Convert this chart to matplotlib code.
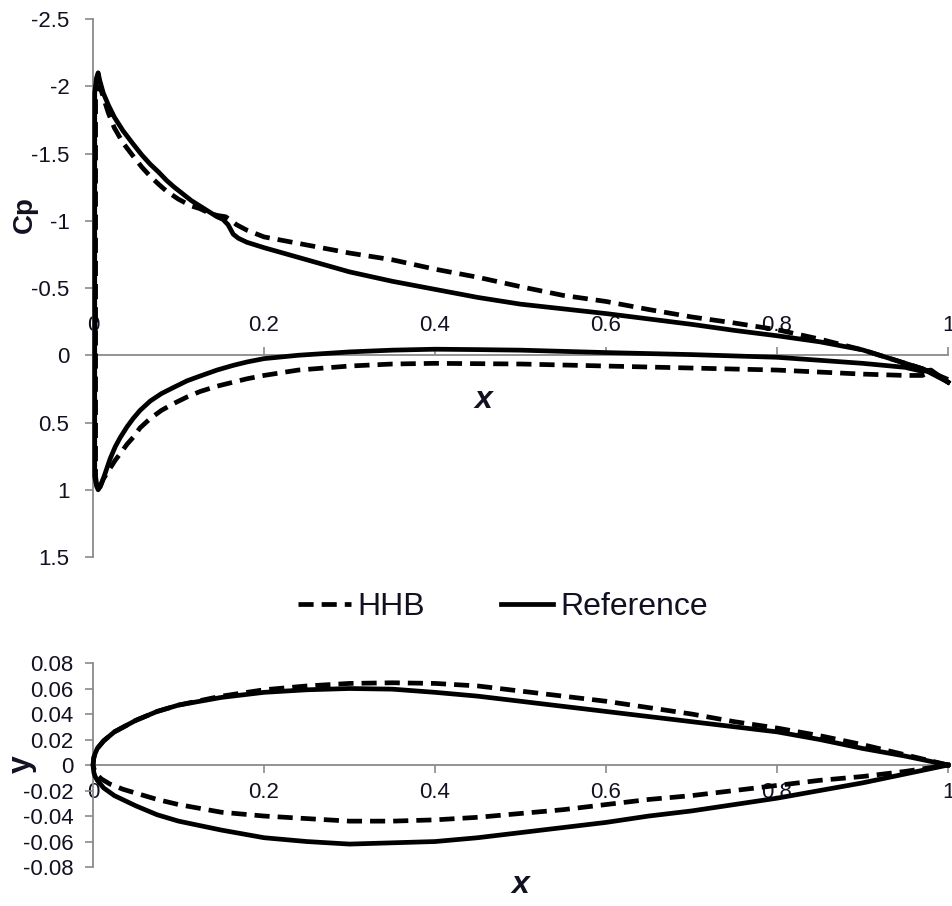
import matplotlib
matplotlib.use("Agg")
import matplotlib.pyplot as plt

# ---- Pressure coefficient along the chord (upper / lower surface) ----
ref_cp_x_upper = [0.002, 0.004, 0.006, 0.008, 0.012, 0.018, 0.025, 0.035, 0.047, 0.057,
                  0.067, 0.077, 0.086, 0.095, 0.105, 0.115, 0.125, 0.135, 0.145, 0.152,
                  0.158, 0.164, 0.170, 0.180, 0.200, 0.250, 0.300, 0.350, 0.400, 0.450,
                  0.500, 0.550, 0.600, 0.650, 0.700, 0.750, 0.800, 0.850, 0.900, 0.950,
                  0.970, 1.000]
ref_cp_upper = [-1.95, -2.06, -2.10, -2.04, -1.95, -1.86, -1.77, -1.67, -1.57, -1.49,
                -1.42, -1.36, -1.30, -1.25, -1.20, -1.15, -1.11, -1.07, -1.03, -1.01,
                -0.97, -0.90, -0.87, -0.84, -0.80, -0.71, -0.62, -0.55, -0.49, -0.43,
                -0.38, -0.345, -0.31, -0.27, -0.23, -0.185, -0.145, -0.10, -0.04, 0.06,
                0.10, 0.20]
ref_cp_x_lower = [0.002, 0.004, 0.006, 0.009, 0.013, 0.020, 0.026, 0.032, 0.040, 0.047,
                  0.055, 0.067, 0.080, 0.094, 0.110, 0.125, 0.145, 0.164, 0.180, 0.200,
                  0.240, 0.300, 0.350, 0.400, 0.450, 0.500, 0.600, 0.700, 0.800, 0.900,
                  0.950, 0.970, 0.980, 1.000]
ref_cp_lower = [0.90, 0.97, 1.00, 0.97, 0.90, 0.77, 0.68, 0.61, 0.53, 0.47,
                0.41, 0.34, 0.285, 0.24, 0.19, 0.155, 0.11, 0.075, 0.05, 0.025,
                0.00, -0.025, -0.038, -0.045, -0.042, -0.038, -0.02, -0.005, 0.015, 0.06,
                0.09, 0.12, 0.11, 0.20]

hhb_cp_x_upper = [0.003, 0.006, 0.008, 0.012, 0.018, 0.025, 0.035, 0.047, 0.057, 0.067,
                  0.077, 0.086, 0.100, 0.115, 0.125, 0.135, 0.145, 0.155, 0.162, 0.168,
                  0.180, 0.200, 0.250, 0.300, 0.350, 0.400, 0.450, 0.500, 0.550, 0.600,
                  0.650, 0.700, 0.750, 0.800, 0.850, 0.900, 0.950, 0.970, 1.000]
hhb_cp_upper = [-1.90, -1.98, -2.00, -1.92, -1.80, -1.69, -1.58, -1.48, -1.40, -1.33,
                -1.27, -1.22, -1.16, -1.11, -1.09, -1.06, -1.04, -1.03, -1.00, -0.97,
                -0.93, -0.88, -0.82, -0.76, -0.71, -0.64, -0.58, -0.51, -0.445, -0.40,
                -0.34, -0.285, -0.24, -0.19, -0.12, -0.04, 0.06, 0.10, 0.18]
hhb_cp_x_lower = [0.003, 0.005, 0.008, 0.012, 0.020, 0.026, 0.032, 0.040, 0.047, 0.055,
                  0.067, 0.080, 0.094, 0.110, 0.125, 0.145, 0.164, 0.180, 0.200, 0.240,
                  0.300, 0.350, 0.400, 0.500, 0.600, 0.700, 0.800, 0.900, 0.950, 0.970,
                  0.980, 1.000]
hhb_cp_lower = [0.90, 1.00, 0.98, 0.92, 0.84, 0.78, 0.73, 0.66, 0.61, 0.54,
                0.47, 0.41, 0.36, 0.31, 0.27, 0.23, 0.20, 0.175, 0.15, 0.11,
                0.08, 0.065, 0.06, 0.065, 0.08, 0.095, 0.11, 0.14, 0.15, 0.15,
                0.12, 0.20]

# ---- Airfoil geometry ----
ref_geo_x_upper = [0.0, 0.001, 0.0025, 0.005, 0.0125, 0.025, 0.050, 0.075, 0.100, 0.150,
                   0.200, 0.250, 0.300, 0.350, 0.400, 0.450, 0.500, 0.550, 0.600, 0.650,
                   0.700, 0.750, 0.800, 0.850, 0.900, 0.950, 1.000]
ref_geo_y_upper = [0.0, 0.006, 0.009, 0.013, 0.019, 0.026, 0.035, 0.042, 0.047, 0.053,
                   0.057, 0.059, 0.060, 0.0595, 0.057, 0.054, 0.050, 0.046, 0.042, 0.038,
                   0.034, 0.030, 0.026, 0.020, 0.013, 0.007, 0.0]
ref_geo_x_lower = [0.0, 0.001, 0.0025, 0.005, 0.0125, 0.025, 0.050, 0.075, 0.100, 0.150,
                   0.200, 0.250, 0.300, 0.350, 0.400, 0.450, 0.500, 0.550, 0.600, 0.650,
                   0.700, 0.750, 0.800, 0.850, 0.900, 0.950, 1.000]
ref_geo_y_lower = [0.0, -0.006, -0.009, -0.012, -0.018, -0.024, -0.032, -0.039, -0.044, -0.051,
                   -0.057, -0.060, -0.062, -0.061, -0.060, -0.057, -0.053, -0.049, -0.045, -0.040,
                   -0.036, -0.031, -0.026, -0.020, -0.014, -0.007, 0.0]

hhb_geo_x_upper = [0.0, 0.001, 0.0025, 0.005, 0.0125, 0.025, 0.050, 0.075, 0.100, 0.150,
                   0.200, 0.250, 0.300, 0.350, 0.400, 0.450, 0.500, 0.550, 0.600, 0.650,
                   0.700, 0.750, 0.800, 0.850, 0.900, 0.950, 1.000]
hhb_geo_y_upper = [0.0, 0.006, 0.009, 0.013, 0.019, 0.026, 0.035, 0.042, 0.047, 0.054,
                   0.059, 0.062, 0.064, 0.0645, 0.064, 0.062, 0.058, 0.054, 0.050, 0.045,
                   0.040, 0.034, 0.029, 0.023, 0.016, 0.008, 0.0]
hhb_geo_x_lower = [0.0, 0.002, 0.005, 0.010, 0.020, 0.035, 0.050, 0.075, 0.100, 0.125,
                   0.150, 0.200, 0.250, 0.300, 0.350, 0.400, 0.450, 0.500, 0.550, 0.600,
                   0.650, 0.700, 0.750, 0.800, 0.850, 0.900, 0.950, 1.000]
hhb_geo_y_lower = [0.0, -0.005, -0.008, -0.011, -0.015, -0.019, -0.022, -0.027, -0.031, -0.034,
                   -0.037, -0.040, -0.042, -0.044, -0.044, -0.043, -0.041, -0.038, -0.035, -0.031,
                   -0.027, -0.024, -0.020, -0.016, -0.012, -0.009, -0.005, 0.0]

# ---- Tick labels ----
x_ticks = [0, 0.2, 0.4, 0.6, 0.8, 1]
x_tick_labels = ["0", "0.2", "0.4", "0.6", "0.8", "1"]
cp_ticks = [-2.5, -2, -1.5, -1, -0.5, 0, 0.5, 1, 1.5]
cp_tick_labels = ["-2.5", "-2", "-1.5", "-1", "-0.5", "0", "0.5", "1", "1.5"]
y_ticks = [0.08, 0.06, 0.04, 0.02, 0, -0.02, -0.04, -0.06, -0.08]
y_tick_labels = ["0.08", "0.06", "0.04", "0.02", "0", "-0.02", "-0.04", "-0.06", "-0.08"]

plt.rcParams["font.family"] = ["Liberation Sans", "DejaVu Sans"]

AXIS_GRAY = "#8a8a8a"
TEXT_COLOR = "#111122"
LW = 3.4
DASH = (0, (3.2, 1.7))
TICK_SIZE = 16


def loop(xu, yu, xl, yl):
    """Join upper surface (trailing edge -> leading edge) with lower surface."""
    return list(xu[::-1]) + list(xl), list(yu[::-1]) + list(yl)


def style_axes(ax):
    for side in ("right", "bottom", "top", "left"):
        ax.spines[side].set_visible(False)
    ax.spines["left"].set_visible(True)
    ax.spines["left"].set_color(AXIS_GRAY)
    ax.spines["left"].set_linewidth(1.3)
    ax.tick_params(axis="both", colors=AXIS_GRAY, labelcolor=TEXT_COLOR,
                   labelsize=TICK_SIZE, width=1.2, length=6, direction="out")
    ax.tick_params(axis="y", pad=11)


fig = plt.figure(figsize=(9.53, 9.06), dpi=100)

# ---------------- Cp distribution ----------------
ax1 = fig.add_axes([0.0976, 0.3852, 0.8972, 0.5938])
style_axes(ax1)
ax1.set_xlim(0, 1)
ax1.set_ylim(1.5, -2.5)
ax1.spines["top"].set_visible(True)
ax1.spines["top"].set_position(("data", 0))
ax1.spines["top"].set_color(AXIS_GRAY)
ax1.spines["top"].set_linewidth(1.3)
ax1.xaxis.tick_top()
ax1.set_xticks(x_ticks)
ax1.set_xticklabels(x_tick_labels, fontsize=TICK_SIZE)
ax1.tick_params(axis="x", pad=8)
ax1.set_yticks(cp_ticks)
ax1.set_yticklabels(cp_tick_labels, fontsize=TICK_SIZE)

xr, cr = loop(ref_cp_x_upper, ref_cp_upper, ref_cp_x_lower, ref_cp_lower)
xh, ch = loop(hhb_cp_x_upper, hhb_cp_upper, hhb_cp_x_lower, hhb_cp_lower)
l_hhb, = ax1.plot(xh, ch, color="black", lw=LW, ls=DASH, label="HHB", clip_on=False,
                  zorder=3, solid_joinstyle="round")
l_ref, = ax1.plot(xr, cr, color="black", lw=LW, ls="-", label="Reference", clip_on=False,
                  zorder=4, solid_joinstyle="round")

fig.text(25 / 953, 1 - 215 / 906, "Cp", rotation=90, fontsize=20, fontweight="bold",
         color=TEXT_COLOR, ha="center", va="center")
fig.text(483 / 953, 1 - 400 / 906, "x", fontsize=23, fontweight="bold", style="italic",
         color=TEXT_COLOR, ha="center", va="center")

fig.legend([l_hhb, l_ref], ["HHB", "Reference"], loc="center",
           bbox_to_anchor=(503 / 953, 1 - 607 / 906), ncol=2, frameon=False,
           fontsize=23, handlelength=1.65, handletextpad=0.22, columnspacing=2.35,
           labelcolor=TEXT_COLOR)

# ---------------- Airfoil shape ----------------
ax2 = fig.add_axes([0.0976, 0.0430, 0.8972, 0.2252])
style_axes(ax2)
ax2.set_xlim(0, 1)
ax2.set_ylim(-0.08, 0.08)
ax2.spines["bottom"].set_visible(True)
ax2.spines["bottom"].set_position(("data", 0))
ax2.spines["bottom"].set_color(AXIS_GRAY)
ax2.spines["bottom"].set_linewidth(1.3)
ax2.set_xticks(x_ticks)
ax2.set_xticklabels(x_tick_labels, fontsize=TICK_SIZE)
ax2.tick_params(axis="x", pad=6)
ax2.set_yticks(y_ticks)
ax2.set_yticklabels(y_tick_labels, fontsize=TICK_SIZE)
ax2.tick_params(axis="y", pad=8)

gxr, gyr = loop(ref_geo_x_upper, ref_geo_y_upper, ref_geo_x_lower, ref_geo_y_lower)
gxh, gyh = loop(hhb_geo_x_upper, hhb_geo_y_upper, hhb_geo_x_lower, hhb_geo_y_lower)
ax2.plot(gxh, gyh, color="black", lw=LW, ls=DASH, clip_on=False, zorder=3,
         solid_joinstyle="round")
ax2.plot(gxr, gyr, color="black", lw=LW, ls="-", clip_on=False, zorder=4,
         solid_joinstyle="round")

fig.text(22 / 953, 1 - 764 / 906, "y", rotation=90, fontsize=23, fontweight="bold",
         color=TEXT_COLOR, ha="center", va="center")
fig.text(520 / 953, 1 - 885 / 906, "x", fontsize=23, fontweight="bold", style="italic",
         color=TEXT_COLOR, ha="center", va="center")

fig.savefig("out.png", dpi=100, facecolor="white")
